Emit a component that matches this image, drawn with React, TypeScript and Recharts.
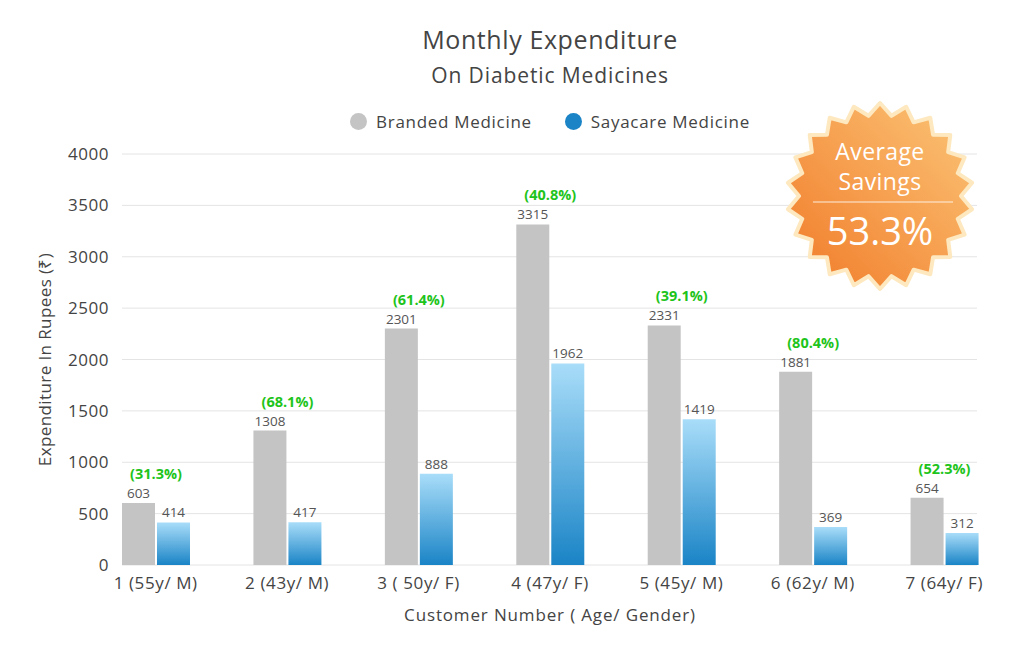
import {
  Bar,
  BarChart,
  CartesianGrid,
  LabelList,
  Legend,
  XAxis,
  YAxis,
} from "recharts";

const customers = [
  "1 (55y/ M)",
  "2 (43y/ M)",
  "3 ( 50y/ F)",
  "4 (47y/ F)",
  "5 (45y/ M)",
  "6 (62y/ M)",
  "7 (64y/ F)",
];
const branded = [603, 1308, 2301, 3315, 2331, 1881, 654];
const sayacare = [414, 417, 888, 1962, 1419, 369, 312];
const savings = ["(31.3%)", "(68.1%)", "(61.4%)", "(40.8%)", "(39.1%)", "(80.4%)", "(52.3%)"];
const yTicks = [0, 500, 1000, 1500, 2000, 2500, 3000, 3500, 4000];
const averageSavings = "53.3%";

const data = customers.map((name, i) => ({
  name,
  branded: branded[i],
  sayacare: sayacare[i],
  pct: savings[i],
}));

const FONT = "'Open Sans', sans-serif";
const TEXT = "#444";

function YTick({ x, y, payload }: any) {
  return (
    <text
      x={x + 27}
      y={y}
      dy={6}
      textAnchor="end"
      fill={TEXT}
      fontSize={17}
      letterSpacing={0.5}
      fontFamily={FONT}
    >
      {payload.value}
    </text>
  );
}

function XTick({ x, y, payload }: any) {
  return (
    <text
      x={x}
      y={y}
      dy={16}
      textAnchor="middle"
      fill={TEXT}
      fontSize={17}
      letterSpacing={0.6}
      fontFamily={FONT}
    >
      {payload.value}
    </text>
  );
}

function PctLabel({ x, y, width, value }: any) {
  return (
    <text
      x={x + width + 1}
      y={y - 29}
      dy={5}
      textAnchor="middle"
      fill="#1ec41b"
      fontSize={14.5}
      fontWeight={700}
      fontFamily={FONT}
    >
      {value}
    </text>
  );
}

function LegendContent() {
  const items = [
    { label: "Branded Medicine", color: "#c4c4c4" },
    { label: "Sayacare Medicine", color: "#1a84c6" },
  ];
  return (
    <div style={{ display: "flex", justifyContent: "center", gap: 33, fontFamily: FONT }}>
      {items.map((it) => (
        <div key={it.label} style={{ display: "flex", alignItems: "center", gap: 9 }}>
          <span
            style={{ width: 17, height: 17, borderRadius: "50%", background: it.color, display: "inline-block" }}
          />
          <span style={{ fontSize: 17, letterSpacing: 0.7, color: TEXT }}>{it.label}</span>
        </div>
      ))}
    </div>
  );
}

function Badge() {
  const cx = 880;
  const cy = 196;
  const spikes = 22;
  const pts: string[] = [];
  for (let i = 0; i < spikes * 2; i++) {
    const r = i % 2 === 0 ? 93 : 81;
    const a = (Math.PI * i) / spikes - Math.PI / 2;
    pts.push(`${cx + r * Math.cos(a)},${cy + r * Math.sin(a)}`);
  }
  return (
    <svg width={1024} height={657} style={{ position: "absolute", left: 0, top: 0, pointerEvents: "none" }}>
      <defs>
        <linearGradient id="badgeFill" x1="0" y1="1" x2="1" y2="0">
          <stop offset="0%" stopColor="#f07a28" />
          <stop offset="100%" stopColor="#fcc577" />
        </linearGradient>
      </defs>
      <polygon points={pts.join(" ")} fill="url(#badgeFill)" stroke="#fde8bf" strokeWidth={4} strokeLinejoin="round" />
      <text x={cx} y={160} textAnchor="middle" fill="#fff" fontSize={23} letterSpacing={0.4} fontFamily={FONT}>
        Average
      </text>
      <text x={cx} y={190} textAnchor="middle" fill="#fff" fontSize={23} letterSpacing={0.4} fontFamily={FONT}>
        Savings
      </text>
      <line x1={813} x2={953} y1={202} y2={202} stroke="rgba(255,255,255,0.55)" strokeWidth={1.5} />
      <text x={cx} y={245} textAnchor="middle" fill="#fff" fontSize={38} fontFamily={FONT}>
        {averageSavings}
      </text>
    </svg>
  );
}

export default function App() {
  return (
    <div style={{ position: "absolute", left: 0, top: 0, width: 1024, height: 657, background: "#fff", fontFamily: FONT }}>
      <div style={{ position: "absolute", left: 90, width: 920, top: 21, textAlign: "center", color: TEXT }}>
        <div style={{ fontSize: 25, letterSpacing: 0.6, lineHeight: "37px" }}>Monthly Expenditure</div>
        <div style={{ fontSize: 21, letterSpacing: 0.9, lineHeight: "34px" }}>On Diabetic Medicines</div>
      </div>
      <BarChart
        width={1024}
        height={657}
        data={data}
        margin={{ top: 154, right: 14, bottom: 0, left: 0 }}
        barGap={2}
      >
        <defs>
          <linearGradient id="blueFill" x1="0" y1="0" x2="0" y2="1">
            <stop offset="0%" stopColor="#a9ddf9" />
            <stop offset="100%" stopColor="#1a84c6" />
          </linearGradient>
        </defs>
        <CartesianGrid vertical={false} stroke="#e4e4e4" x={122} width={855} />
        <XAxis
          dataKey="name"
          axisLine={false}
          tickLine={false}
          height={92}
          tick={<XTick />}
          interval={0}
          label={{
            value: "Customer Number ( Age/ Gender)",
            position: "insideBottom",
            offset: 36,
            fill: TEXT,
            fontSize: 17,
            letterSpacing: 0.85,
            fontFamily: FONT,
          }}
        />
        <YAxis
          width={90}
          domain={[0, 4000]}
          ticks={yTicks}
          axisLine={false}
          tickLine={false}
          tick={<YTick />}
          label={{
            value: "Expenditure In Rupees (₹)",
            angle: -90,
            position: "center",
            fill: TEXT,
            fontSize: 17,
            letterSpacing: 0.4,
            fontFamily: FONT,
          }}
        />
        <Legend
          verticalAlign="middle"
          content={<LegendContent />}
          wrapperStyle={{ top: 110, left: 90, width: 920 }}
        />
        <Bar dataKey="branded" name="Branded Medicine" fill="#c4c4c4" barSize={33} isAnimationActive={false}>
          <LabelList dataKey="branded" position="top" offset={5} fill="#555" fontSize={13.5} fontFamily={FONT} />
          <LabelList dataKey="pct" content={<PctLabel />} />
        </Bar>
        <Bar dataKey="sayacare" name="Sayacare Medicine" fill="url(#blueFill)" barSize={33} isAnimationActive={false}>
          <LabelList dataKey="sayacare" position="top" offset={5} fill="#555" fontSize={13.5} fontFamily={FONT} />
        </Bar>
      </BarChart>
      <Badge />
    </div>
  );
}
